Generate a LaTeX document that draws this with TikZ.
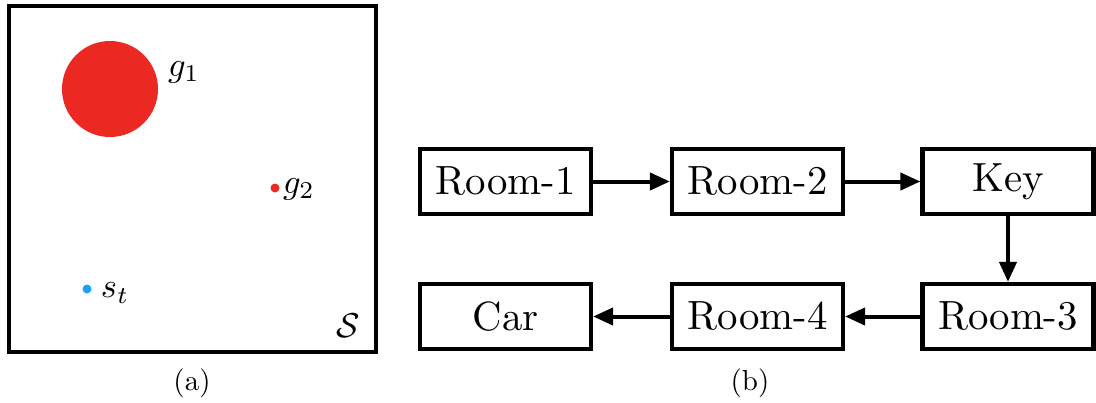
\documentclass[tikz,border=0pt]{standalone}
\usetikzlibrary{arrows.meta}
\definecolor{goalred}{RGB}{235,40,34}
\definecolor{stateblue}{RGB}{30,160,250}
\newcommand{\roomtxt}[1]{\scalebox{4.08}{#1}}
\newcommand{\captxt}[1]{\scalebox{2.9}{#1}}
\newcommand{\mathlab}[1]{\scalebox{3.45}{#1}}
\tikzset{
  roombox/.style={draw, line width=4.2pt, minimum width=171pt, minimum height=65pt, inner sep=0pt},
  flow/.style={line width=4pt, -{Triangle[length=20pt,width=17pt]}},
  lab/.style={inner sep=0pt}
}
\begin{document}
\begin{tikzpicture}[x=1pt,y=-1pt]
\useasboundingbox (0,0) rectangle (1096,402);
% (a)
\node[draw, line width=4pt, minimum width=367pt, minimum height=346pt, inner sep=0pt] (frame) at (192.3,178.8) {};
\node[circle, fill=goalred, minimum size=96pt, inner sep=0pt] (g1) at (110,89) {};
\node[lab] (g1l) at (184,72) {\mathlab{$g_1$}};
\node[lab] (g2l) at (299,189) {\mathlab{$g_2$}};
\node[circle, fill=goalred, minimum size=9pt, inner sep=0pt] (g2) at (275,188) {};
\node[circle, fill=stateblue, minimum size=9pt, inner sep=0pt] (st) at (87,289) {};
\node[lab] (stl) at (115,293) {\mathlab{$s_t$}};
\node[lab] (S) at (348,326) {\mathlab{$\mathcal{S}$}};
\node[lab] (capa) at (192,383) {\captxt{(a)}};
% (b)
\node[roombox] (r1) at (505.5,181.5) {\roomtxt{Room-1}};
\node[roombox] (r2) at (757.5,181.5) {\roomtxt{Room-2}};
\node[roombox] (key) at (1008,181.5) {\roomtxt{Key}};
\node[roombox] (r3) at (1008,316.5) {\roomtxt{Room-3}};
\node[roombox] (r4) at (757.5,316.5) {\roomtxt{Room-4}};
\node[roombox] (car) at (505.5,316.5) {\roomtxt{Car}};
\draw[flow] (r1) -- (r2);
\draw[flow] (r2) -- (key);
\draw[flow] (key) -- (r3);
\draw[flow] (r3) -- (r4);
\draw[flow] (r4) -- (car);
\node[lab] (capb) at (750,383) {\captxt{(b)}};
\end{tikzpicture}
\end{document}
